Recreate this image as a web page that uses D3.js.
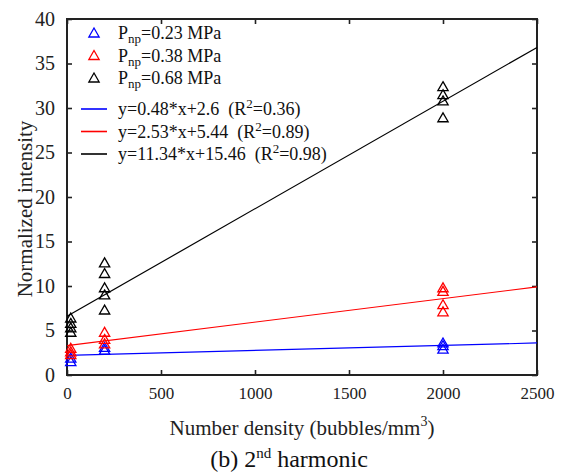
<!DOCTYPE html>
<html>
<head>
<meta charset="utf-8">
<script src="https://cdn.jsdelivr.net/npm/d3@7"></script>
<style>
  body { margin: 0; background: #fff; }
  svg { font-family: "Liberation Serif", "Times New Roman", serif; }
  text { white-space: pre; }
</style>
</head>
<body>
<svg width="566" height="476"></svg>
<script>
// data
var pressures = ["0.23", "0.38", "0.68"];
var colors = ["#0000ff", "#ff0000", "#000000"];
var densities = [20, 200, 2000];

// measured intensities at each density, one array per pressure
var blueVals = [[1.9, 1.5], [3.1, 2.8], [3.6, 3.3, 2.9]];
var redVals = [[3.0, 2.6, 2.3], [4.8, 4.0, 3.5], [9.8, 9.4, 7.9, 7.1]];
var blackVals = [[6.4, 5.8, 5.3, 4.8], [12.6, 11.4, 9.8, 9.0, 7.3], [32.4, 31.5, 30.8, 28.9]];

// fitted lines: value at x = 0 and x = 2500
var fitLabels = ["y=0.48*x+2.6", "y=2.53*x+5.44", "y=11.34*x+15.46"];
var fitR2 = ["0.36", "0.89", "0.98"];
var fitStart = [2.2, 3.3, 6.6];
var fitEnd = [3.6, 9.9, 36.8];

var xTicks = [0, 500, 1000, 1500, 2000, 2500];
var yTicks = [0, 5, 10, 15, 20, 25, 30, 35, 40];

var svg = d3.select("svg");
var margin = { top: 19, right: 29, bottom: 101, left: 67 };
var width = +svg.attr("width") - margin.left - margin.right;
var height = +svg.attr("height") - margin.top - margin.bottom;

var x = d3.scaleLinear().domain([0, 2500]).range([0, width]);
var y = d3.scaleLinear().domain([0, 40]).range([height, 0]);

var g = svg.append("g")
    .attr("transform", "translate(" + margin.left + "," + margin.top + ")");

// axes with inward ticks on all four sides
function styleAxis(size) {
  return function(sel) {
    sel.select(".domain").remove();
    sel.selectAll("line").attr("stroke", "#222").attr("stroke-width", 1.6);
    sel.selectAll("text").attr("font-size", size).attr("fill", "#222")
      .attr("font-family", "Liberation Serif");
  };
}

g.append("g")
    .attr("transform", "translate(0," + height + ")")
    .call(d3.axisBottom(x).tickValues(xTicks).tickSize(-5).tickPadding(12).tickFormat(d3.format("d")))
    .call(styleAxis(17));
g.append("g")
    .call(d3.axisTop(x).tickValues(xTicks).tickSize(-5).tickFormat(""))
    .call(styleAxis(17));
g.append("g")
    .call(d3.axisLeft(y).tickValues(yTicks).tickSize(-5).tickPadding(12))
    .call(styleAxis(20));
g.append("g")
    .attr("transform", "translate(" + width + ",0)")
    .call(d3.axisRight(y).tickValues(yTicks).tickSize(-5).tickFormat(""))
    .call(styleAxis(20));

g.append("rect")
    .attr("width", width)
    .attr("height", height)
    .attr("fill", "none")
    .attr("stroke", "#222")
    .attr("stroke-width", 2);

// fit lines
var line = d3.line()
    .x(function(d) { return x(d[0]); })
    .y(function(d) { return y(d[1]); });

fitStart.forEach(function(v, i) {
  g.append("path")
      .datum([[0, v], [2500, fitEnd[i]]])
      .attr("fill", "none")
      .attr("stroke", colors[i])
      .attr("stroke-width", 1.2)
      .attr("d", line);
});

// markers
var tri = d3.symbol().type(d3.symbolTriangle).size(46);
[blueVals, redVals, blackVals].forEach(function(vals, i) {
  var pts = [];
  vals.forEach(function(arr, j) {
    arr.forEach(function(v) { pts.push({ x: densities[j], v: v }); });
  });
  g.selectAll(".pt" + i)
    .data(pts).enter()
    .append("path")
      .attr("class", "pt" + i)
      .attr("d", tri)
      .attr("transform", function(d) { return "translate(" + x(d.x) + "," + (y(d.v) + 1) + ")"; })
      .attr("fill", "none")
      .attr("stroke", colors[i])
      .attr("stroke-width", 1.3);
});

// legend
var legend = svg.append("g").attr("font-size", 18).attr("fill", "#111");
pressures.forEach(function(p, i) {
  var ly = 33 + i * 22.5;
  legend.append("path")
      .attr("d", tri)
      .attr("transform", "translate(94," + (ly + 1) + ")")
      .attr("fill", "none")
      .attr("stroke", colors[i])
      .attr("stroke-width", 1.3);
  var t = legend.append("text").attr("x", 118).attr("y", ly + 6);
  t.append("tspan").text("P");
  t.append("tspan").attr("font-size", 13).attr("dy", 4).text("np");
  t.append("tspan").attr("dy", -4).text("=" + p + " MPa");
});
fitLabels.forEach(function(s, i) {
  var ly = 109 + i * 22.5;
  legend.append("line")
      .attr("x1", 81).attr("x2", 107)
      .attr("y1", ly).attr("y2", ly)
      .attr("stroke", colors[i])
      .attr("stroke-width", 1.6);
  var t = legend.append("text").attr("x", 118).attr("y", ly + 6);
  t.append("tspan").text(s + "  (R");
  t.append("tspan").attr("font-size", 13).attr("dy", -7).text("2");
  t.append("tspan").attr("dy", 7).text("=" + fitR2[i] + ")");
});

// axis titles
svg.append("text")
    .attr("transform", "translate(32,209) rotate(-90)")
    .attr("text-anchor", "middle")
    .attr("font-size", 21)
    .attr("fill", "#222")
    .text("Normalized intensity");

var xl = svg.append("text")
    .attr("x", margin.left + width / 2)
    .attr("y", 435)
    .attr("text-anchor", "middle")
    .attr("font-size", 21)
    .attr("fill", "#222");
xl.append("tspan").text("Number density (bubbles/mm");
xl.append("tspan").attr("font-size", 14).attr("dy", -9).text("3");
xl.append("tspan").attr("dy", 9).text(")");

var title = svg.append("text")
    .attr("x", 289)
    .attr("y", 467)
    .attr("text-anchor", "middle")
    .attr("font-size", 24)
    .attr("fill", "#111");
title.append("tspan").text("(b) 2");
title.append("tspan").attr("font-size", 15).attr("dy", -9).text("nd");
title.append("tspan").attr("dy", 9).text(" harmonic");
</script>
</body>
</html>
